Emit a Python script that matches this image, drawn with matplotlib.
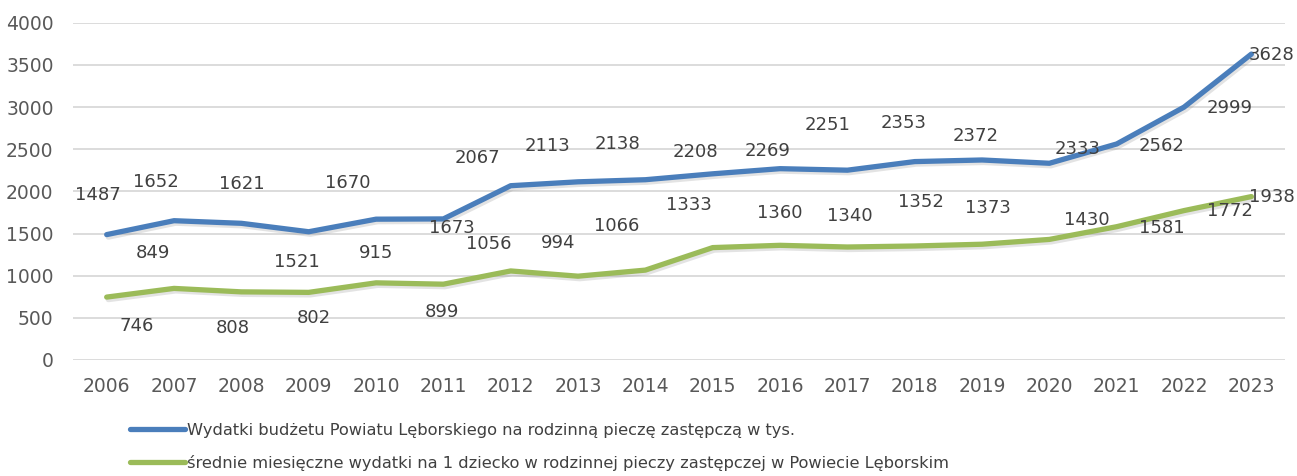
import matplotlib.pyplot as plt
import matplotlib.patheffects as pe

# data
years = ['2006', '2007', '2008', '2009', '2010', '2011', '2012', '2013', '2014',
         '2015', '2016', '2017', '2018', '2019', '2020', '2021', '2022', '2023']
budget = [1487, 1652, 1621, 1521, 1670, 1673, 2067, 2113, 2138,
          2208, 2269, 2251, 2353, 2372, 2333, 2562, 2999, 3628]
per_child = [746, 849, 808, 802, 915, 899, 1056, 994, 1066,
             1333, 1360, 1340, 1352, 1373, 1430, 1581, 1772, 1938]

budget_name = 'Wydatki budżetu Powiatu Lęborskiego na rodzinną pieczę zastępczą w tys.'
child_name = 'średnie miesięczne wydatki na 1 dziecko w rodzinnej pieczy zastępczej w Powiecie Lęborskim'

# where the (hand moved) data labels sit: x shift in categories, y in value units
budget_lab_dx = [-0.13, -0.27, 0.0, -0.18, -0.42, 0.13, -0.5, -0.46, -0.42,
                 -0.25, -0.18, -0.3, -0.17, -0.09, 0.42, 0.67, 0.68, 0.3]
budget_lab_y = [1957, 2111, 2087, 1162, 2099, 1565, 2395, 2538, 2561,
                2466, 2478, 2787, 2810, 2656, 2502, 2538, 2988, 3617]
child_lab_dx = [0.45, -0.32, -0.13, 0.07, 0.0, -0.02, -0.33, -0.29, -0.42,
                -0.36, 0.0, 0.04, 0.09, 0.09, 0.55, 0.67, 0.68, 0.31]
child_lab_y = [403, 1269, 379, 498, 1269, 569, 1376, 1387, 1589,
               1838, 1743, 1708, 1874, 1802, 1660, 1565, 1767, 1933]

blue = '#4a7ebb'
green = '#9bbb59'
txt = '#404040'

fig = plt.figure(figsize=(12.97, 4.76), dpi=100)
ax = fig.add_axes([0.0563, 0.2437, 0.9345, 0.7086])

x = list(range(len(years)))
shadow = [pe.SimpleLineShadow(offset=(1.2, -1.8), shadow_color='#909090', alpha=0.25), pe.Normal()]
l1, = ax.plot(x, budget, color=blue, lw=3.8, solid_capstyle='round', path_effects=shadow, zorder=3)
l2, = ax.plot(x, per_child, color=green, lw=3.8, solid_capstyle='round', path_effects=shadow, zorder=3)

for i in x:
    ax.text(i + budget_lab_dx[i], budget_lab_y[i], str(budget[i]), ha='center', va='center',
            fontsize=13, color=txt, zorder=4)
    ax.text(i + child_lab_dx[i], child_lab_y[i], str(per_child[i]), ha='center', va='center',
            fontsize=13, color=txt, zorder=4)

ax.set_xlim(-0.5, len(years) - 0.5)
ax.set_ylim(0, 4000)
ax.set_yticks(range(0, 4001, 500))
ax.set_xticks(x)
ax.set_xticklabels(years)
ax.grid(axis='y', color='#d9d9d9', lw=1.3)
ax.set_axisbelow(True)
for s in ax.spines.values():
    s.set_visible(False)
ax.tick_params(axis='y', length=0, pad=14, labelsize=13.5, labelcolor='#595959')
ax.tick_params(axis='x', length=0, pad=12, labelsize=13.5, labelcolor='#595959')

leg = fig.legend([l1, l2], [budget_name, child_name], loc='upper left',
                 bbox_to_anchor=(130 / 1297, 1 - 423 / 476), frameon=False,
                 fontsize=11.7, handlelength=3.4, handletextpad=0.1,
                 labelspacing=1.05, borderpad=0, borderaxespad=0)
for t in leg.get_texts():
    t.set_color(txt)
for h in leg.legend_handles:
    h.set_path_effects([])

fig.savefig('out.png', dpi=100)
